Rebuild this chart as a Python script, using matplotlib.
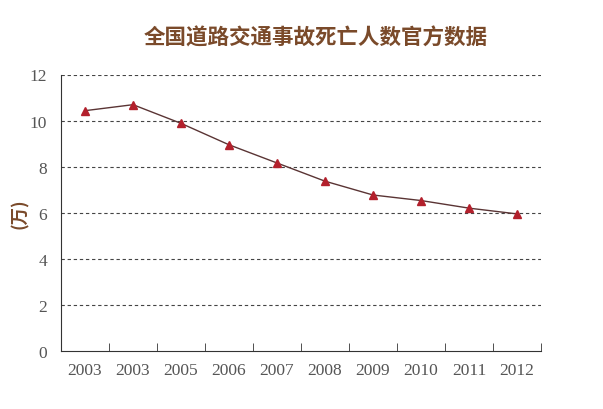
import numpy as np
import matplotlib
matplotlib.use("Agg")
import matplotlib.pyplot as plt

# 数据
years = ["2003", "2003", "2005", "2006", "2007", "2008", "2009", "2010", "2011", "2012"]
deaths = [10.43, 10.69, 9.88, 8.95, 8.16, 7.37, 6.77, 6.53, 6.20, 5.95]
y_ticks = [0, 2, 4, 6, 8, 10, 12]
title = "全国道路交通事故死亡人数官方数据"
ylabel = "(万)"

fig = plt.figure(figsize=(6.03, 4.10), dpi=100)
ax = fig.add_axes([61 / 603, 1 - 352 / 410, 480 / 603, 276.5 / 410])

x = np.arange(len(years))
ax.plot(x, deaths, color="#5a3434", linewidth=1.0, zorder=3)
ax.plot(x, deaths, linestyle="none", marker="^", markersize=5.5,
        color="#b3202c", markeredgecolor="#b3202c", zorder=4)

ax.set_xlim(-0.5, 9.5)
ax.set_ylim(0, 12)

# 网格
for v in y_ticks[1:]:
    ax.axhline(v, color="#444444", linestyle=(0, (3, 2.5)), linewidth=0.8, zorder=1)

for side in ("top", "right"):
    ax.spines[side].set_visible(False)
ax.spines["left"].set_color("#333333")
ax.spines["bottom"].set_color("#333333")

ax.set_xticks(x)
ax.set_xticklabels(years)
ax.set_xticks(np.arange(0.5, 10, 1.0), minor=True)
ax.tick_params(axis="x", which="major", length=0, pad=8)
ax.tick_params(axis="x", which="minor", direction="in", length=6, color="#333333")
ax.set_yticks(y_ticks)
ax.tick_params(axis="y", length=0, pad=10)

for lab in ax.get_xticklabels() + ax.get_yticklabels():
    lab.set_fontfamily("Liberation Serif")
    lab.set_fontsize(12.5)
    lab.set_color("#555555")

fig.text(316 / 603, 1 - 38 / 410, title, ha="center", va="center",
         fontsize=15.5, fontweight="bold", color="#7a4a2a",
         family=["Noto Sans CJK SC", "DejaVu Sans"])
fig.text(20 / 603, 1 - 214 / 410, ylabel, ha="center", va="center",
         rotation=90, fontsize=12.5, fontweight="bold", color="#7a4a2a",
         family=["Noto Sans CJK SC", "DejaVu Sans"])

fig.savefig("out.png", dpi=100)
